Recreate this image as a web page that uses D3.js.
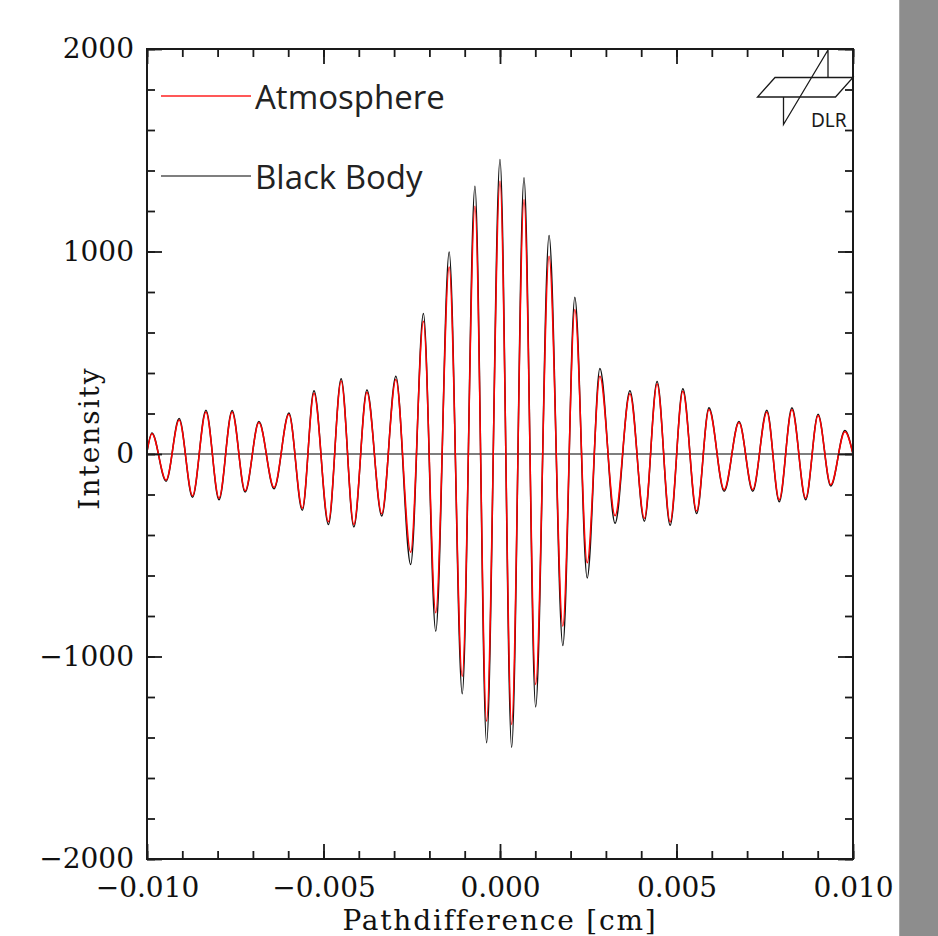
<!DOCTYPE html>
<html>
<head>
<meta charset="utf-8">
<script src="https://cdn.jsdelivr.net/npm/d3@7"></script>
<style>
  body { margin: 0; background: #fff; }
</style>
</head>
<body>
<div class="svg-container"></div>
<script>
// interferogram extrema, pathdifference in cm
const pathDiff = [-0.0100, -0.00986, -0.00946, -0.00909, -0.00871, -0.00833, -0.00796, -0.00759, -0.00722, -0.00683,
                  -0.00640, -0.00598, -0.00560, -0.00527, -0.00486, -0.00450, -0.00414, -0.00377, -0.00335, -0.00295,
                  -0.00253, -0.00217, -0.00182, -0.00144, -0.00107, -0.00071, -0.00038, 0.00000, 0.00033, 0.00068,
                  0.00101, 0.00139, 0.00178, 0.00212, 0.00247, 0.00283, 0.00326, 0.00368, 0.00409, 0.00445,
                  0.00482, 0.00518, 0.00557, 0.00592, 0.00635, 0.00677, 0.00716, 0.00756, 0.00791, 0.00827,
                  0.00866, 0.00901, 0.00937, 0.00977, 0.0100];

const atmosphere = [10, 100, -129, 168, -206, 208, -218, 208, -182, 155,
                    -165, 196, -268, 300, -335, 360, -348, 305, -295, 368,
                    -485, 656, -784, 924, -1097, 1224, -1319, 1347, -1336, 1257,
                    -1138, 977, -850, 714, -537, 384, -305, 298, -318, 346,
                    -336, 310, -282, 220, -176, 155, -176, 208, -226, 220,
                    -218, 190, -152, 110, 0];

const blackBody = [12, 104, -134, 175, -214, 216, -226, 215, -188, 160,
                   -172, 202, -278, 312, -348, 372, -360, 316, -306, 384,
                   -546, 694, -875, 997, -1184, 1322, -1426, 1454, -1448, 1364,
                   -1249, 1079, -946, 774, -612, 422, -342, 312, -332, 358,
                   -352, 322, -294, 228, -184, 160, -184, 216, -236, 228,
                   -226, 196, -158, 116, 0];

const xTicks = [-0.01, -0.005, 0, 0.005, 0.01];
const yTicks = [-2000, -1000, 0, 1000, 2000];
const seriesNames = ["Atmosphere", "Black Body"];

var w = 938, h = 936;
var padL = 147, padR = 853, padT = 49, padB = 859;

const svg = d3.select(".svg-container")
              .append("svg")
              .attr("width", w)
              .attr("height", h)
              .style("display", "block");

// grey strip on the right
svg.append("rect")
   .attr("x", 899).attr("y", 0)
   .attr("width", w - 899).attr("height", h)
   .attr("fill", "#8d8d8d");
svg.append("line")
   .attr("x1", 899.5).attr("x2", 899.5).attr("y1", 0).attr("y2", h)
   .attr("stroke", "#a8a8a8");

const xScale = d3.scaleLinear().domain([-0.01, 0.01]).range([padL, padR]);
const yScale = d3.scaleLinear().domain([-2000, 2000]).range([padB, padT]);

// zero line
svg.append("line")
   .attr("x1", padL).attr("x2", padR)
   .attr("y1", yScale(0)).attr("y2", yScale(0))
   .attr("stroke", "#555").attr("stroke-width", 1.6);

const line = d3.line()
               .x(d => xScale(d[0]))
               .y(d => yScale(d[1]))
               .curve(d3.curveMonotoneX);

svg.append("path")
   .datum(pathDiff.map((p, i) => [p, blackBody[i]]))
   .attr("d", line)
   .attr("fill", "none")
   .attr("stroke", "#111")
   .attr("stroke-width", 1.5);

svg.append("path")
   .datum(pathDiff.map((p, i) => [p, atmosphere[i]]))
   .attr("d", line)
   .attr("fill", "none")
   .attr("stroke", "#ff0000")
   .attr("stroke-width", 1.5);

// axes, ticks pointing inward on all four sides
function styleAxis(g) {
  g.select(".domain").remove();
  g.selectAll(".tick line").attr("stroke", "#1a1a1a").attr("stroke-width", 1.8);
  g.selectAll("text")
   .attr("fill", "#111")
   .style("font-family", "'DejaVu Serif', serif")
   .style("font-size", "28px");
}

const fmtX = d3.format(".3f"), fmtY = d3.format("d");

svg.append("g").attr("transform", "translate(0," + padB + ")")
   .call(d3.axisBottom(xScale).tickValues(xScale.ticks(20)).tickSize(-8).tickFormat(""))
   .call(styleAxis);
svg.append("g").attr("transform", "translate(0," + padB + ")")
   .call(d3.axisBottom(xScale).tickValues(xTicks).tickSize(-15).tickPadding(18).tickFormat(fmtX))
   .call(styleAxis);
svg.append("g").attr("transform", "translate(0," + padT + ")")
   .call(d3.axisTop(xScale).tickValues(xScale.ticks(20)).tickSize(-8).tickFormat(""))
   .call(styleAxis);
svg.append("g").attr("transform", "translate(0," + padT + ")")
   .call(d3.axisTop(xScale).tickValues(xTicks).tickSize(-15).tickFormat(""))
   .call(styleAxis);

svg.append("g").attr("transform", "translate(" + padL + ",0)")
   .call(d3.axisLeft(yScale).tickValues(yScale.ticks(20)).tickSize(-8).tickFormat(""))
   .call(styleAxis);
svg.append("g").attr("transform", "translate(" + padL + ",0)")
   .call(d3.axisLeft(yScale).tickValues(yTicks).tickSize(-15).tickPadding(13).tickFormat(fmtY))
   .call(styleAxis);
svg.append("g").attr("transform", "translate(" + padR + ",0)")
   .call(d3.axisRight(yScale).tickValues(yScale.ticks(20)).tickSize(-8).tickFormat(""))
   .call(styleAxis);
svg.append("g").attr("transform", "translate(" + padR + ",0)")
   .call(d3.axisRight(yScale).tickValues(yTicks).tickSize(-15).tickFormat(""))
   .call(styleAxis);

// frame
svg.append("rect")
   .attr("x", padL).attr("y", padT)
   .attr("width", padR - padL).attr("height", padB - padT)
   .attr("fill", "none")
   .attr("stroke", "#1a1a1a")
   .attr("stroke-width", 2);

// axis titles
svg.append("text")
   .attr("x", (padL + padR) / 2)
   .attr("y", 930)
   .attr("text-anchor", "middle")
   .style("font-family", "'DejaVu Serif', serif")
   .style("font-size", "28px")
   .style("letter-spacing", "1.8px")
   .attr("fill", "#111")
   .text("Pathdifference [cm]");

svg.append("text")
   .attr("transform", "translate(99,438) rotate(-90)")
   .attr("text-anchor", "middle")
   .style("font-family", "'DejaVu Serif', serif")
   .style("font-size", "28px")
   .style("letter-spacing", "2px")
   .attr("fill", "#111")
   .text("Intensity");

// legend
const legendColors = ["#ff2020", "#555"];
const legendY = [96, 176];
seriesNames.forEach(function(name, i) {
  svg.append("line")
     .attr("x1", 161).attr("x2", 251)
     .attr("y1", legendY[i]).attr("y2", legendY[i])
     .attr("stroke", legendColors[i])
     .attr("stroke-width", 1.5);
  svg.append("text")
     .attr("x", 255)
     .attr("y", legendY[i] + 13)
     .style("font-family", "'Open Sans', sans-serif")
     .style("font-size", "33px")
     .attr("fill", "#222")
     .text(name);
});

// DLR logo
const logo = svg.append("g")
                .attr("fill", "none")
                .attr("stroke", "#1a1a1a")
                .attr("stroke-width", 1.3);
logo.append("path").attr("d", "M775,77.5 L853,77.5 L835.5,97 L757.5,97 Z");
logo.append("path").attr("d", "M828,50 L828,77.5 M828,50 L783.5,124.5 L783.5,97");
svg.append("text")
   .attr("x", 811)
   .attr("y", 127)
   .style("font-family", "'Noto Sans', sans-serif")
   .style("font-size", "19px")
   .attr("fill", "#1a1a1a")
   .text("DLR");
</script>
</body>
</html>
